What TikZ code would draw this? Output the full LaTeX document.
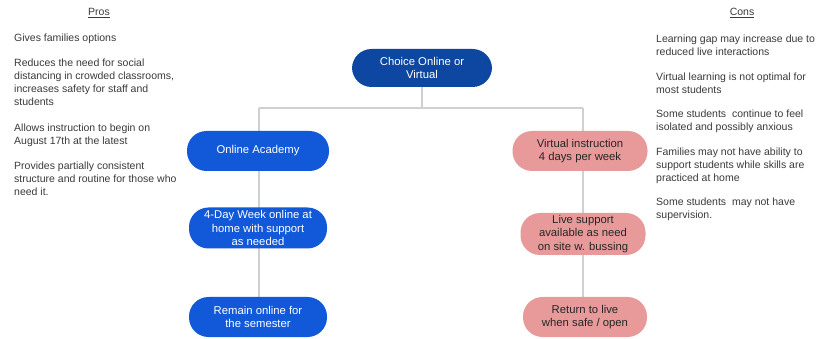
\documentclass[tikz,border=0pt]{standalone}
\usepackage{fontspec}
\setmainfont{Liberation Sans}
\usetikzlibrary{backgrounds}
\definecolor{rootblue}{HTML}{0D47A1}
\definecolor{boxblue}{HTML}{1259D9}
\definecolor{boxpink}{HTML}{E89A9A}
\definecolor{linegray}{HTML}{D0D0D0}
\definecolor{txtgray}{HTML}{3A3A3A}
\tikzset{
  pill/.style={rectangle, rounded corners=19.5pt, align=center, inner sep=0pt,
    font=\fontsize{11.3}{13.4}\selectfont, minimum height=40pt},
  bluepill/.style={pill, fill=boxblue, text=white},
  rootpill/.style={pill, fill=rootblue, text=white},
  pinkpill/.style={pill, fill=boxpink, text=black!85},
  side/.style={anchor=north west, align=left, inner sep=0pt, text=txtgray,
    font=\fontsize{10.5}{13}\selectfont},
  head/.style={inner sep=0pt, text=txtgray, font=\fontsize{10.5}{13}\selectfont},
  conn/.style={draw=linegray, line width=1.2pt}
}
\begin{document}
\begin{tikzpicture}[x=1pt,y=-1pt]
\useasboundingbox (0,0) rectangle (817,339);

% diagram nodes
\node[rootpill, minimum width=140pt, minimum height=38pt] (root) at (422,68) {Choice Online or\\Virtual};
\node[bluepill, minimum width=142pt] (oa) at (258,151) {Online Academy};
\node[pinkpill, minimum width=135pt] (vi) at (580,151) {Virtual instruction\\4 days per week};
\node[bluepill, minimum width=138pt, minimum height=41pt] (fd) at (258,228) {4-Day Week online at\\home with support\\as needed};
\node[pinkpill, minimum width=125pt, minimum height=42pt] (ls) at (583,234) {Live support\\available as need\\on site w. bussing};
\node[bluepill, minimum width=138pt] (ro) at (258,317) {Remain online for\\the semester};
\node[pinkpill, minimum width=124pt] (rl) at (585,317) {Return to live\\when safe / open};

\coordinate (j) at (422,108);
\coordinate (lx) at (259,108);
\coordinate (rx) at (583,108);

\begin{scope}[on background layer]
\fill[white] (0,0) rectangle (817,339);
\draw[conn] (root) -- (j);
\draw[conn] (lx) -- (rx);
\draw[conn] (lx) -- (lx |- ro.north);
\draw[conn] (rx) -- (rx |- rl.north);
\end{scope}

% Pros
\node[head] (proshead) at (99,13) {\underline{Pros}};
\node[side] (p1) at (14,33.5) {Gives families options};
\node[side] (p2) at (14,58.5) {Reduces the need for social\\distancing in crowded classrooms,\\increases safety for staff and\\students};
\node[side] (p3) at (14,123.5) {Allows instruction to begin on\\August 17th at the latest};
\node[side] (p4) at (14,161.5) {Provides partially consistent\\structure and routine for those who\\need it.};

% Cons
\node[head] (conshead) at (742,13) {\underline{Cons}};
\node[side] (c1) at (656,34.5) {Learning gap may increase due to\\reduced live interactions};
\node[side] (c2) at (656,72.5) {Virtual learning is not optimal for\\most students};
\node[side] (c3) at (656,109.5) {Some students\ \ continue to feel\\isolated and possibly anxious};
\node[side] (c4) at (656,148) {Families may not have ability to\\support students while skills are\\practiced at home};
\node[side] (c5) at (656,198) {Some students\ \ may not have\\supervision.};
\end{tikzpicture}
\end{document}
